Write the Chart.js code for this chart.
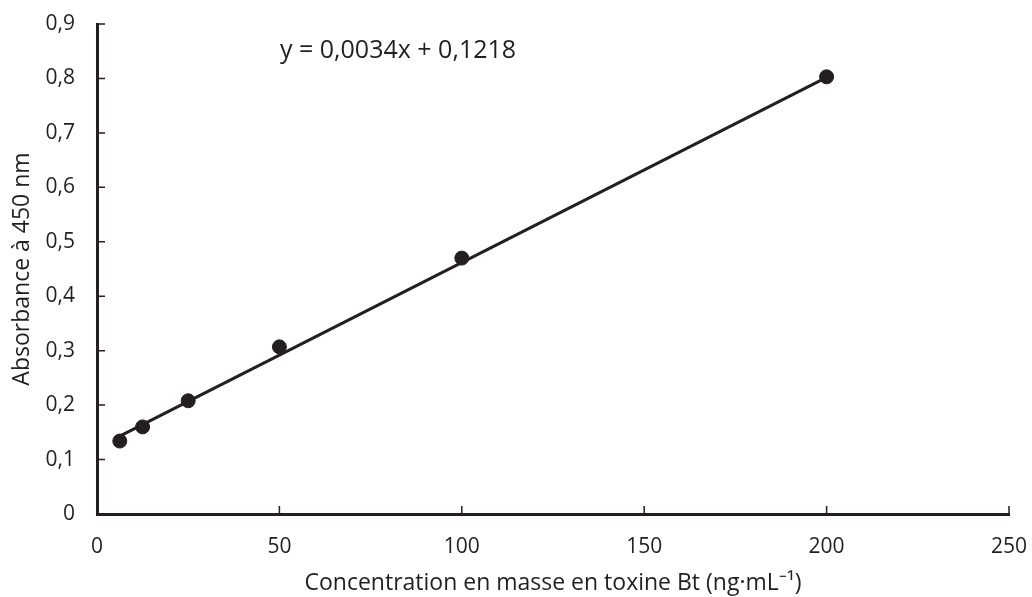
<!DOCTYPE html>
<html>
<head>
<meta charset="utf-8">
<script src="https://cdn.jsdelivr.net/npm/chart.js@4.4.1/dist/chart.umd.min.js"></script>
<style>
    html, body { margin: 0; padding: 0; background: #fff; }
    #wrap { width: 1032px; height: 597px; }
</style>
</head>
<body>
<div id="wrap"><canvas id="calib"></canvas></div>
<script>
let concentrations = [6.25, 12.5, 25, 50, 100, 200];
let absorbances = [0.134, 0.160, 0.208, 0.307, 0.470, 0.803];
let trendX = [6.25, 200];
let trendY = [0.143, 0.802];
let equationText = 'y = 0,0034x + 0,1218';
let xTicks = [0, 50, 100, 150, 200, 250];
let yTicks = [0, 0.1, 0.2, 0.3, 0.4, 0.5, 0.6, 0.7, 0.8, 0.9];

const ink = '#231f20';
const fontFamily = '"Open Sans", sans-serif';


function toPoints(xs, ys) {
    let pts = [];
    for (let i = 0; i < xs.length; i++) {
        pts.push({ x: xs[i], y: ys[i] });
    }
    return pts;
}


// tick marks drawn inside the plot, like the original, plus the equation label
const innerTicks = {
    id: 'innerTicks',
    afterDraw(chart) {
        const ctx = chart.ctx;
        const area = chart.chartArea;
        const xs = chart.scales.x;
        const ys = chart.scales.y;
        ctx.save();
        ctx.strokeStyle = ink;
        ctx.lineWidth = 1.5;
        ctx.beginPath();
        xTicks.forEach(v => {
            const px = xs.getPixelForValue(v);
            ctx.moveTo(px, area.bottom);
            ctx.lineTo(px, area.bottom - 8);
        });
        yTicks.forEach(v => {
            const py = ys.getPixelForValue(v);
            ctx.moveTo(area.left, py);
            ctx.lineTo(area.left + 8, py);
        });
        ctx.stroke();

        ctx.fillStyle = ink;
        ctx.font = '25px ' + fontFamily;
        ctx.textAlign = 'left';
        ctx.textBaseline = 'middle';
        ctx.fillText(equationText, area.left + 183, 51);
        ctx.restore();
    }
};


function renderChart() {
    const ctx = document.getElementById('calib');
    new Chart(ctx, {
        type: 'scatter',
        data: {
            datasets: [
                {
                    label: 'trend',
                    data: toPoints(trendX, trendY),
                    showLine: true,
                    borderColor: ink,
                    borderWidth: 3,
                    pointRadius: 0,
                    order: 2
                },
                {
                    label: 'mesures',
                    data: toPoints(concentrations, absorbances),
                    backgroundColor: ink,
                    borderColor: ink,
                    pointRadius: 7,
                    order: 1
                }
            ]
        },
        options: {
            responsive: true,
            maintainAspectRatio: false,
            animation: false,
            layout: { padding: { top: 24, right: 23, left: 0, bottom: 0 } },
            plugins: {
                legend: { display: false },
                tooltip: { enabled: false }
            },
            scales: {
                x: {
                    type: 'linear',
                    min: 0,
                    max: 250,
                    afterBuildTicks: s => { s.ticks = xTicks.map(v => ({ value: v })); },
                    afterFit: s => {
                        s.height = 83;
                        s.paddingLeft = 0;
                        s.paddingRight = 0;
                    },
                    border: { color: ink, width: 3 },
                    grid: { display: false, drawTicks: false },
                    ticks: {
                        padding: 20,
                        color: ink,
                        font: { family: fontFamily, size: 21 }
                    },
                    title: {
                        display: true,
                        text: 'Concentration en masse en toxine Bt (ng·mL⁻¹)',
                        color: ink,
                        font: { family: fontFamily, size: 23 },
                        padding: { top: 4, bottom: 0 }
                    }
                },
                y: {
                    type: 'linear',
                    min: 0,
                    max: 0.9,
                    afterBuildTicks: s => { s.ticks = yTicks.map(v => ({ value: v })); },
                    afterFit: s => {
                        s.width = 97;
                        s.paddingTop = 0;
                        s.paddingBottom = 0;
                    },
                    border: { color: ink, width: 3 },
                    grid: { display: false, drawTicks: false },
                    ticks: {
                        padding: 22,
                        color: ink,
                        font: { family: fontFamily, size: 21 },
                        callback: v => v === 0 ? '0' : v.toFixed(1).replace('.', ',')
                    },
                    title: {
                        display: true,
                        text: 'Absorbance à 450 nm',
                        color: ink,
                        font: { family: fontFamily, size: 23 },
                        padding: { top: 9, bottom: 2 }
                    }
                }
            }
        },
        plugins: [innerTicks]
    });
}


Promise.all([
    document.fonts.load('21px "Open Sans"'),
    document.fonts.load('23px "Open Sans"')
]).then(renderChart, renderChart);
</script>
</body>
</html>
